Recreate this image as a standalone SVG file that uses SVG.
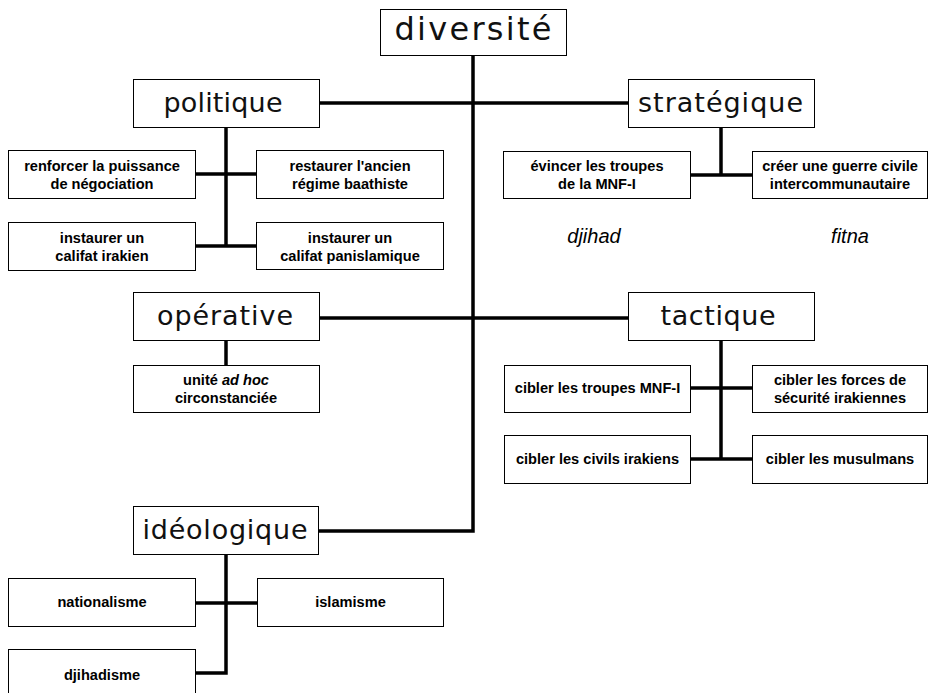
<svg xmlns="http://www.w3.org/2000/svg" width="928" height="693" viewBox="0 0 928 693">
<style>
.box{fill:#fff;stroke:#000;stroke-width:1}
.title{font-family:"DejaVu Sans",sans-serif;font-size:27px;fill:#111;text-anchor:middle}
.lbl{font-family:"Liberation Sans",Arial,sans-serif;font-size:14.6px;font-weight:bold;fill:#000;text-anchor:middle}
.it{font-family:"Liberation Sans",Arial,sans-serif;font-size:20px;font-style:italic;fill:#000;text-anchor:middle}
.con{fill:none;stroke:#000;stroke-width:3.5}
</style>
<rect width="928" height="693" fill="#fff"/>
<g id="connectors" class="con">
<path d="M473,55 V531 H318"/>
<path d="M319,103 H628"/>
<path d="M319,318 H628"/>
<path d="M226,127 V246"/>
<path d="M195,174 H257"/>
<path d="M195,246 H257"/>
<path d="M721,127 V175"/>
<path d="M690,175 H752"/>
<path d="M226,340 V365"/>
<path d="M721,340 V459"/>
<path d="M690,388 H752"/>
<path d="M690,459 H752"/>
<path d="M226,554 V673 H195"/>
<path d="M195,603 H257"/>
</g>
<g id="diversite"><rect class="box" x="380.5" y="9.5" width="186" height="46"/><text class="title" x="473" y="40" style="font-size:32px" textLength="157" lengthAdjust="spacing">diversité</text></g>
<g id="politique"><rect class="box" x="133.5" y="79.5" width="186" height="48"/><text class="title" x="223" y="112" textLength="119" lengthAdjust="spacing">politique</text></g>
<g id="strategique"><rect class="box" x="628.5" y="79.5" width="186" height="48"/><text class="title" x="720.5" y="112" textLength="165" lengthAdjust="spacing">stratégique</text></g>
<g id="operative"><rect class="box" x="133.5" y="292.5" width="186" height="48"/><text class="title" x="225" y="325" textLength="136" lengthAdjust="spacing">opérative</text></g>
<g id="tactique"><rect class="box" x="628.5" y="292.5" width="186" height="48"/><text class="title" x="718" y="325" textLength="115" lengthAdjust="spacing">tactique</text></g>
<g id="ideologique"><rect class="box" x="133.5" y="506.5" width="185" height="48"/><text class="title" x="225" y="539" textLength="165" lengthAdjust="spacing">idéologique</text></g>

<g id="renforcer"><rect class="box" x="8.5" y="150.5" width="187" height="48"/><text class="lbl" x="102" y="171">renforcer la puissance</text><text class="lbl" x="102" y="189">de négociation</text></g>
<g id="restaurer"><rect class="box" x="256.5" y="150.5" width="187" height="48"/><text class="lbl" x="350" y="171">restaurer l'ancien</text><text class="lbl" x="350" y="189">régime baathiste</text></g>
<g id="califat-irakien"><rect class="box" x="8.5" y="222.5" width="187" height="48"/><text class="lbl" x="102" y="243">instaurer un</text><text class="lbl" x="102" y="261">califat irakien</text></g>
<g id="califat-panislamique"><rect class="box" x="256.5" y="222.5" width="187" height="47"/><text class="lbl" x="350" y="243">instaurer un</text><text class="lbl" x="350" y="261">califat panislamique</text></g>

<g id="evincer"><rect class="box" x="503.5" y="151.5" width="187" height="47"/><text class="lbl" x="597" y="171">évincer les troupes</text><text class="lbl" x="597" y="189">de la MNF-I</text></g>
<g id="creer"><rect class="box" x="752.5" y="151.5" width="175" height="47"/><text class="lbl" x="840" y="171">créer une guerre civile</text><text class="lbl" x="840" y="189">intercommunautaire</text></g>
<g id="djihad"><text class="it" x="594" y="243">djihad</text></g>
<g id="fitna"><text class="it" x="850" y="243">fitna</text></g>

<g id="unite"><rect class="box" x="133.5" y="365.5" width="186" height="47"/><text class="lbl" x="226" y="385">unité <tspan font-style="italic">ad hoc</tspan></text><text class="lbl" x="226" y="403">circonstanciée</text></g>

<g id="cibler-troupes"><rect class="box" x="504.5" y="365.5" width="186" height="47"/><text class="lbl" x="597.5" y="393">cibler les troupes MNF-I</text></g>
<g id="cibler-forces"><rect class="box" x="752.5" y="365.5" width="175" height="47"/><text class="lbl" x="840" y="385">cibler les forces de</text><text class="lbl" x="840" y="403">sécurité irakiennes</text></g>
<g id="cibler-civils"><rect class="box" x="504.5" y="435.5" width="186" height="48"/><text class="lbl" x="597.5" y="464">cibler les civils irakiens</text></g>
<g id="cibler-musulmans"><rect class="box" x="752.5" y="435.5" width="175" height="48"/><text class="lbl" x="840" y="464">cibler les musulmans</text></g>

<g id="nationalisme"><rect class="box" x="8.5" y="578.5" width="187" height="48"/><text class="lbl" x="102" y="607">nationalisme</text></g>
<g id="islamisme"><rect class="box" x="257.5" y="578.5" width="186" height="48"/><text class="lbl" x="350.5" y="607">islamisme</text></g>
<g id="djihadisme"><rect class="box" x="8.5" y="649.5" width="187" height="60"/><text class="lbl" x="102" y="680">djihadisme</text></g>
</svg>
